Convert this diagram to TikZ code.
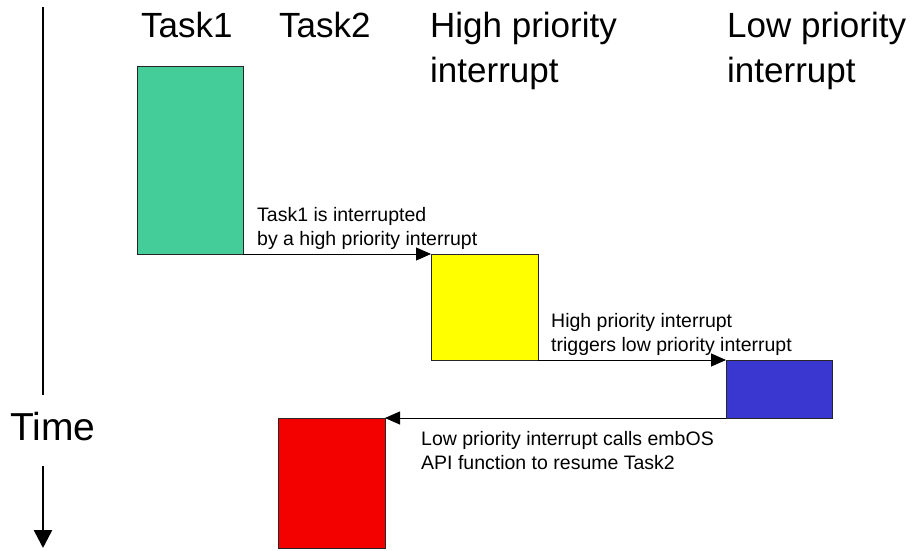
\documentclass[tikz,border=0pt]{standalone}
\usepackage{fontspec}
\setmainfont{Liberation Sans}
\usetikzlibrary{arrows.meta}
\definecolor{taskgreen}{RGB}{68,204,153}
\definecolor{hiyellow}{RGB}{255,255,0}
\definecolor{loblue}{RGB}{58,54,208}
\definecolor{taskred}{RGB}{243,0,0}
\begin{document}
\begin{tikzpicture}[x=1pt,y=-1pt,
  bar/.style={draw=black!85,line width=0.9pt,inner sep=0pt,outer sep=0pt,anchor=north west},
  head/.style={font=\fontsize{35}{45}\selectfont,anchor=base west,inner sep=0pt,align=left},
  note/.style={font=\fontsize{19.5}{24}\selectfont,anchor=base west,inner sep=0pt,align=left},
  conn/.style={line width=0.9pt,-{Triangle[length=15pt,width=13pt]}},
  timeline/.style={line width=2.6pt}]
\useasboundingbox (0,0) rectangle (914,550);
% headings (base anchor = last line)
\node[head] (h1) at (141,37) {Task1};
\node[head] (h2) at (279,37) {Task2};
\node[head] (h3) at (430,82) {High priority\\interrupt};
\node[head] (h4) at (727,82) {Low priority\\interrupt};
% bars
\node[bar,fill=taskgreen,minimum width=106pt,minimum height=188pt] (green) at (137,66) {};
\node[bar,fill=hiyellow,minimum width=107pt,minimum height=106pt] (yellow) at (431,254) {};
\node[bar,fill=loblue,minimum width=106pt,minimum height=58pt] (blue) at (726,360) {};
\node[bar,fill=taskred,minimum width=107pt,minimum height=130pt] (red) at (278,418) {};
% connectors
\draw[conn] (green.south east) -- (yellow.north west);
\draw[conn] (yellow.south east) -- (blue.north west);
\draw[conn] (blue.south west) -- (red.north east);
% notes
\node[note] (n1) at (257,245) {Task1 is interrupted\\by a high priority interrupt};
\node[note] (n2) at (551,351) {High priority interrupt\\triggers low priority interrupt};
\node[note] (n3) at (421,469) {Low priority interrupt calls embOS\\API function to resume Task2};
% time axis
\coordinate (ttop) at (43,7);
\coordinate (tgap1) at (43,395);
\coordinate (tgap2) at (43,466);
\coordinate (tend) at (43,548);
\node[font=\fontsize{39}{45}\selectfont,anchor=base,inner sep=0pt] (time) at (53,440) {Time};
\draw[timeline] (ttop) -- (tgap1);
\draw[timeline,-{Triangle[length=18pt,width=18pt]}] (tgap2) -- (tend);
\end{tikzpicture}
\end{document}
